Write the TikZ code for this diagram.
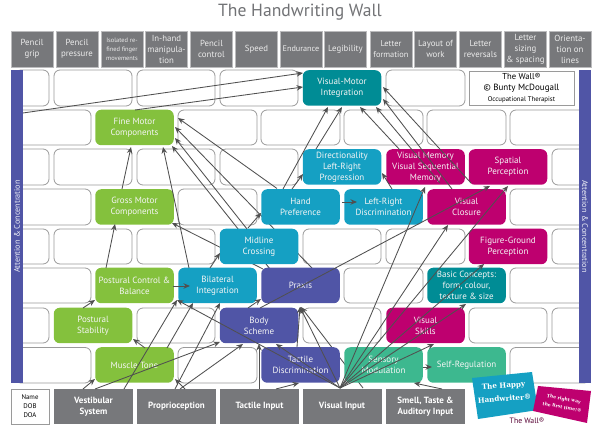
\documentclass[tikz,border=0pt]{standalone}
\usepackage{fontspec}
\setmainfont{PT Sans}
\newfontfamily\logofont{DejaVu Serif}
\usetikzlibrary{arrows.meta}
\pgfdeclarelayer{back}
\pgfsetlayers{back,main}
\definecolor{boxgray}{HTML}{77787B}
\definecolor{gr}{HTML}{84C13D}
\definecolor{bl}{HTML}{15A0C3}
\definecolor{tl}{HTML}{008C95}
\definecolor{mg}{HTML}{BE006F}
\definecolor{ind}{HTML}{5055A6}
\definecolor{sea}{HTML}{3DB88F}
\definecolor{linec}{HTML}{505050}
\definecolor{edgec}{HTML}{9A9A9A}
\tikzset{
  brick/.style={draw=edgec,line width=0.8pt,rounded corners=6pt,fill=white},
  wnode/.style={rounded corners=6pt,minimum width=78.5pt,minimum height=35.5pt,inner sep=0pt,align=center,text=white!92!gray,font=\fontsize{9}{11}\selectfont},
  topbox/.style={fill=boxgray,draw=boxgray!50,line width=0.4pt,minimum height=36pt,minimum width=42pt,inner sep=0pt,align=center,text=white!85!gray,font=\fontsize{8.8}{11}\selectfont},
  botbox/.style={fill=boxgray,minimum width=79pt,minimum height=35.5pt,inner sep=0pt,align=center,text=white,font=\fontsize{9}{11}\selectfont\bfseries},
  bar/.style={fill=ind,minimum width=313pt,minimum height=12pt,inner sep=0pt,text=white!90!ind,font=\fontsize{8.2}{9}\selectfont},
  con/.style={draw=linec,line width=0.85pt,-{Stealth[length=6.5pt,width=5.5pt]}},
  plain/.style={draw=edgec,fill=white,line width=0.9pt,inner sep=0pt,align=center,text=black},
}
\newcommand{\conn}[4]{\draw[con] ([shift={(#2)}]#1.center) -- ([shift={(#4)}]#3.center);}
\begin{document}
\begin{tikzpicture}[x=1pt,y=-1pt]
\useasboundingbox (0,0) rectangle (600,430);
\node[text=boxgray!95!black,font=\fontsize{17.6}{22}\selectfont] (title) at (300,12) {The Handwriting Wall};
% top boxes
\node[topbox] (t1) at (32,49) {Pencil\\grip};
\node[topbox] (t2) at (77,49) {Pencil\\pressure};
\node[topbox,font=\fontsize{6.4}{9}\selectfont] (t3) at (122,49) {Isolated re-\\fined finger\\movements};
\node[topbox] (t4) at (166.5,49) {In-hand\\manipula-\\tion};
\node[topbox] (t5) at (211.5,49) {Pencil\\control};
\node[topbox] (t6) at (256.5,49) {Speed};
\node[topbox,font=\fontsize{8.2}{11}\selectfont] (t7) at (301,49) {Endurance};
\node[topbox] (t8) at (345.5,49) {Legibility};
\node[topbox,font=\fontsize{8.4}{11}\selectfont] (t9) at (391,49) {Letter\\formation};
\node[topbox] (t10) at (435.5,49) {Layout of\\work};
\node[topbox] (t11) at (480.5,49) {Letter\\reversals};
\node[topbox] (t12) at (525.5,49) {Letter\\sizing\\\& spacing};
\node[topbox] (t13) at (570,49) {Orienta-\\tion on\\lines};
% side bars
\node[bar,rotate=90] (lbar) at (17,226.5) {Attention \& Concentration};
\node[bar,rotate=-90] (rbar) at (585,226.5) {Attention \& Concentration};
% wall credit
\node[plain,minimum width=105pt,minimum height=34pt] (credit) at (521.5,88) {\fontsize{8.6}{11}\selectfont The Wall®\\[-0.5pt]\fontsize{9}{11}\selectfont © Bunty McDougall\\[-1.5pt]\fontsize{6.8}{8}\selectfont Occupational Therapist};
% wall nodes
\node[wnode,fill=tl] (vmi) at (342,88) {Visual-Motor\\Integration};
\node[wnode,fill=gr] (fine) at (134.5,127.5) {Fine Motor\\Components};
\node[wnode,fill=bl] (dir) at (342,167) {Directionality\\Left-Right\\Progression};
\node[wnode,fill=mg] (vismem) at (425.5,167) {Visual Memory\\Visual Sequential\\Memory};
\node[wnode,fill=mg] (spatial) at (508,167) {Spatial\\Perception};
\node[wnode,fill=gr] (gross) at (134.5,207) {Gross Motor\\Components};
\node[wnode,fill=bl] (hand) at (300.5,207) {Hand\\Preference};
\node[wnode,fill=bl] (lr) at (383.5,207) {Left-Right\\Discrimination};
\node[wnode,fill=mg] (closure) at (466.5,207) {Visual\\Closure};
\node[wnode,fill=bl] (midline) at (259,246.5) {Midline\\Crossing};
\node[wnode,fill=mg] (figure) at (508,246.5) {Figure-Ground\\Perception};
\node[wnode,fill=gr] (pcb) at (134.5,285.5) {Postural Control \&\\Balance};
\node[wnode,fill=bl] (bilat) at (217.5,285.5) {Bilateral\\Integration};
\node[wnode,fill=ind] (praxis) at (300.5,285.5) {Praxis};
\node[wnode,fill=tl] (basic) at (466.5,285.5) {Basic Concepts:\\form, colour,\\texture \& size};
\node[wnode,fill=gr] (stab) at (93,325.5) {Postural\\Stability};
\node[wnode,fill=ind] (body) at (259,325.5) {Body\\Scheme};
\node[wnode,fill=mg] (vskills) at (425.5,325.5) {Visual\\Skills};
\node[wnode,fill=gr] (muscle) at (134.5,365) {Muscle Tone};
\node[wnode,fill=ind] (tactiled) at (300.5,365) {Tactile\\Discrimination};
\node[wnode,fill=sea] (sensory) at (383.5,365) {Sensory\\Modulation};
\node[wnode,fill=sea] (selfreg) at (466.5,365) {Self-Regulation};
% bottom boxes
\node[plain,minimum width=38pt,minimum height=35pt,font=\fontsize{6.8}{9}\selectfont] (name) at (30,406.5) {Name\\DOB\\DOA};
\node[botbox] (vest) at (93.5,406.5) {Vestibular\\System};
\node[botbox] (prop) at (176.5,406.5) {Proprioception};
\node[botbox] (tinp) at (259.5,406.5) {Tactile Input};
\node[botbox] (vinp) at (342,406.5) {Visual Input};
\node[botbox] (smell) at (425.5,406.5) {Smell, Taste \&\\Auditory Input};
% logos
\fill[bl] (472,378) -- (532,372) -- (538,410) -- (478,419) -- cycle;
\fill[mg] (538,386) -- (591,391) -- (587,423) -- (533,411) -- cycle;
\node[rotate=4,text=white,inner sep=0pt,align=center,font=\logofont\bfseries\fontsize{7.2}{13}\selectfont] (happy) at (504,392) {The Happy\\Handwriter®};
\node[rotate=-11,text=white,inner sep=0pt,align=center,font=\logofont\bfseries\fontsize{4.5}{8.5}\selectfont] (way) at (563,403) {The right way\\the first time!®};
\node[text=mg!45!black,inner sep=0pt,font=\fontsize{7.8}{9}\selectfont] (wallmark) at (527,421) {The Wall®};
% bricks and hidden connectors
\begin{pgfonlayer}{back}
\foreach \a/\b/\t/\u in {
 15/49/70/106,54/132/70/106,137/215/70/106,220/298/70/106,386/465/70/106,
 15/91/110/145,178/257/110/145,261/340/110/145,344/423/110/145,427/506/110/145,510/590/110/145,
 15/49/149/185,54/132/149/185,137/215/149/185,220/298/149/185,552/590/149/185,
 15/91/189/225,178/257/189/225,510/590/189/225,
 15/49/229/264,54/132/229/264,137/215/229/264,303/381/229/264,386/465/229/264,552/590/229/264,
 15/91/268/303,344/423/268/303,510/590/268/303,
 15/49/308/343,137/215/308/343,303/381/308/343,469/547/308/343,552/590/308/343,
 15/91/347.5/383,178/257/347.5/383,510/590/347.5/383}
 {\draw[brick] (\a,\t) rectangle (\b,\u);}
\conn{praxis}{-37.5,-16.5}{gross}{37.5,16}
\conn{praxis}{-30.5,-16.5}{fine}{37.5,18.5}
\conn{praxis}{11.5,-17.5}{fine}{40.5,-0.5}
\conn{vinp}{21,-18.5}{praxis}{0.5,21.5}
\end{pgfonlayer}
% connectors
\conn{lbar}{6,-113.5}{vmi}{-39,-15}
\conn{fine}{0.5,-17.5}{vmi}{-39,-1}
\conn{gross}{-12.5,-18}{fine}{-3.5,19.5}
\conn{pcb}{-28.5,-17.5}{gross}{-19.5,17}
\conn{bilat}{-28.5,-17.5}{fine}{28.5,19.5}
\conn{midline}{-12,-17.5}{fine}{40.5,10.5}
\conn{hand}{-23.5,-18.5}{fine}{43.5,-9.5}
\conn{hand}{-17.5,-18}{vmi}{-14,19}
\conn{hand}{-8.5,-18}{dir}{-39,7}
\conn{dir}{-26,-18}{vmi}{0,19}
\conn{vismem}{-25.5,-17}{vmi}{18,19}
\conn{vismem}{14.5,16}{vmi}{34,19}
\conn{closure}{-14.5,-18}{vmi}{41,11}
\conn{spatial}{-37,16}{vmi}{41,-1}
\conn{hand}{41.5,-5}{lr}{-26.5,-5}
\conn{lr}{8.5,-18}{dir}{40,6}
\conn{body}{1,-17.5}{spatial}{-18,19}
\conn{vinp}{-2,-18.5}{vismem}{-0.5,20}
\conn{vinp}{-2,-18.5}{closure}{-18.5,18}
\conn{vinp}{-2,-18.5}{spatial}{0,19}
\conn{vinp}{-2,-18.5}{figure}{-24,17.5}
\conn{vinp}{-2,-18.5}{basic}{-0.5,18.5}
\conn{vinp}{-2,-18.5}{vskills}{8.5,18.5}
\conn{vinp}{-2,-18.5}{praxis}{-0.5,21.5}
\conn{vinp}{-2,-18.5}{bilat}{-40.5,14.5}
\conn{vinp}{-2,-18.5}{body}{17,18.5}
\conn{tinp}{16.5,-17.5}{tactiled}{-1.5,18}
\conn{tinp}{-0.5,-17.5}{body}{0,18.5}
\conn{tactiled}{-3.5,-18}{praxis}{-0.5,21.5}
\conn{vest}{-10.5,-17.5}{muscle}{-39.5,14}
\conn{vest}{1.5,-17.5}{body}{-39,16.5}
\conn{vest}{30.5,-17.5}{bilat}{-40.5,14.5}
\conn{muscle}{10.5,-17}{stab}{40,13.5}
\conn{muscle}{32.5,-17}{bilat}{-24.5,17.5}
\conn{prop}{8.5,-17.5}{muscle}{40.5,14}
\conn{prop}{-1.5,-17.5}{bilat}{2.5,17.5}
\conn{prop}{3.5,-17.5}{body}{-16,18.5}
\conn{stab}{-10,-17.5}{pcb}{-39.5,14.5}
\conn{pcb}{38.5,0.5}{bilat}{-27.5,0.5}
\conn{bilat}{-7.5,-17.5}{midline}{-39,6.5}
\conn{body}{-11,-17.5}{praxis}{-39.5,13.5}
\conn{midline}{-11,-18.5}{hand}{-39.5,6}
\conn{sensory}{39.5,2}{selfreg}{-34.5,2}
\conn{smell}{16.5,-17.5}{sensory}{30.5,18}
\end{tikzpicture}
\end{document}
